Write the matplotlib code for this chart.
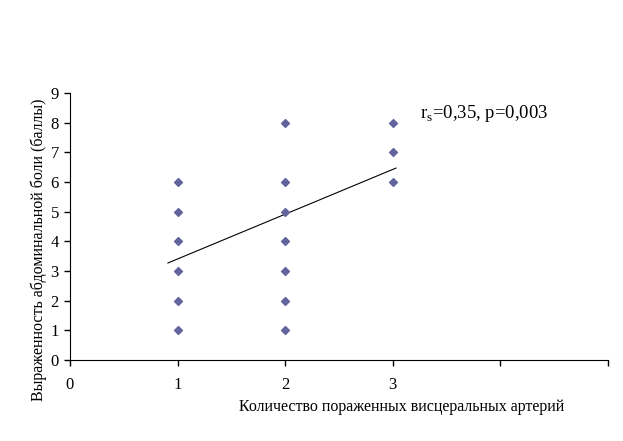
import matplotlib
matplotlib.use("Agg")
import matplotlib.pyplot as plt

# data
x_vals = [1, 1, 1, 1, 1, 1, 2, 2, 2, 2, 2, 2, 2, 3, 3, 3]
y_vals = [1, 2, 3, 4, 5, 6, 1, 2, 3, 4, 5, 6, 8, 6, 7, 8]
trend_x = [0.91, 3.03]
trend_y = [3.27, 6.47]
x_ticks = [0, 1, 2, 3, 4, 5]
x_tick_labels = ["0", "1", "2", "3", "", ""]
y_ticks = list(range(0, 10))

plt.rcParams["font.family"] = ["Liberation Serif", "DejaVu Serif"]

fig = plt.figure(figsize=(6.23, 4.41), dpi=100)
ax = fig.add_axes([70 / 623, 1 - 360 / 441, 538 / 623, 267 / 441])

ax.scatter(x_vals, y_vals, marker="D", s=16, color="#62649e", zorder=3)
ax.plot(trend_x, trend_y, color="black", lw=0.8)

ax.set_xlim(0, 5)
ax.set_ylim(0, 9)
ax.set_xticks(x_ticks)
ax.set_xticklabels(x_tick_labels)
ax.set_yticks(y_ticks)
ax.tick_params(labelsize=12, length=4, width=1, direction="out")
ax.tick_params(axis="x", pad=8)
ax.tick_params(axis="y", pad=4)
for s in ["top", "right"]:
    ax.spines[s].set_visible(False)

fig.text(402 / 623, 1 - 407 / 441, "Количество пораженных висцеральных артерий",
         ha="center", va="center", fontsize=11.5)
fig.text(39 / 623, 1 - 250 / 441, "Выраженность абдоминальной боли (баллы)",
         ha="center", va="center", rotation=90, fontsize=11.5)
ax.text(3.25, 8.32, r"r$_\mathregular{s}$=0,35, p=0,003", fontsize=13.5, va="center")

fig.savefig("out.png", dpi=100)
